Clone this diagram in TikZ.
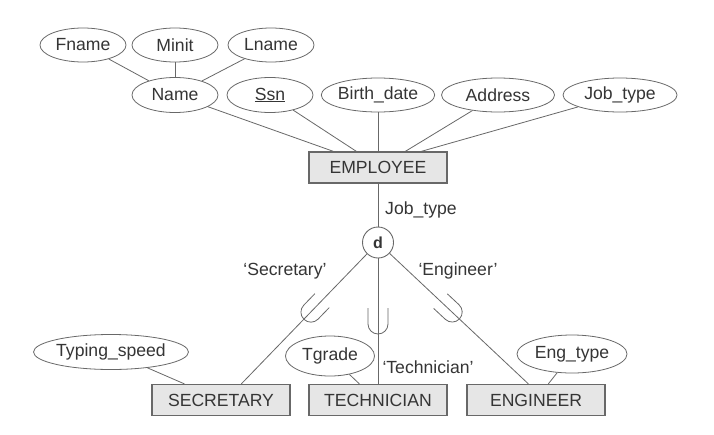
\documentclass[tikz,border=0pt]{standalone}
\usepackage{fontspec}
\setmainfont{Liberation Sans}
\usetikzlibrary{shapes.geometric,calc}
\definecolor{ink}{HTML}{353535}
\definecolor{edge}{HTML}{686868}
\definecolor{boxfill}{HTML}{E6E6E6}
\begin{document}
\begin{tikzpicture}[x=1pt,y=-1pt,
  attr/.style={ellipse,draw=edge,line width=0.8pt,fill=white,inner sep=0pt,text=ink,font=\fontsize{17.6}{20}\selectfont},
  ent/.style={rectangle,draw=edge,line width=1.3pt,fill=boxfill,minimum width=138pt,minimum height=31pt,inner sep=0pt,text=ink,font=\fontsize{17.6}{20}\selectfont},
  disc/.style={circle,draw=edge,line width=0.9pt,fill=white,minimum size=31pt,inner sep=0pt,text=ink,font=\fontsize{16}{18}\selectfont\bfseries},
  conn/.style={draw=edge,line width=0.8pt},
  lbl/.style={text=ink,font=\fontsize{17.6}{20}\selectfont,inner sep=0pt},
  subsetU/.pic={\draw[conn] (-10,-13) -- (-10,3) arc[start angle=180,end angle=0,radius=10] -- (10,-13);}
]
\useasboundingbox (0,0) rectangle (714,434);
\fill[white] (0,0) rectangle (714,434);

% attributes of EMPLOYEE
\node[attr,minimum width=86pt,minimum height=34pt] (fname) at (83,45) {Fname};
\node[attr,minimum width=86pt,minimum height=34pt] (minit) at (175,45) {Minit};
\node[attr,minimum width=86pt,minimum height=34pt] (lname) at (271,45) {Lname};
\node[attr,minimum width=86pt,minimum height=35pt] (name) at (175,95) {Name};
\node[attr,minimum width=86pt,minimum height=35pt] (ssn) at (270,95) {\underline{Ssn}};
\node[attr,minimum width=113pt,minimum height=34pt] (bdate) at (378,95) {Birth\_date};
\node[attr,minimum width=113pt,minimum height=34pt] (addr) at (498,95) {Address};
\node[attr,minimum width=114pt,minimum height=34pt] (jtype) at (620,95) {Job\_type};

% entities
\node[ent] (emp) at (378,167.5) {EMPLOYEE};
\node[disc] (d) at (378,242.5) {d};
\node[ent] (sec) at (221,400) {SECRETARY};
\node[ent] (tech) at (378,400) {TECHNICIAN};
\node[ent] (eng) at (536,400) {ENGINEER};

% subclass attributes
\node[attr,minimum width=142pt,minimum height=35pt] (tspeed) at (111,352) {Typing\_speed};
\node[attr,minimum width=89pt,minimum height=40pt] (tgrade) at (330,356) {Tgrade};
\node[attr,minimum width=110pt,minimum height=38pt] (etype) at (572,354) {Eng\_type};

% labels
\node[lbl,anchor=west] (lbljob) at (385,210) {Job\_type};
\node[lbl] (lblsec) at (285,271) {‘Secretary’};
\node[lbl] (lbleng) at (458,271) {‘Engineer’};
\node[lbl] (lbltech) at (428,367) {‘Technician’};

% connectors
\draw[conn] (fname) -- (name);
\draw[conn] (minit) -- (name);
\draw[conn] (lname) -- (name);
\draw[conn] (name) -- ($(emp.north west)+(25,0)$);
\draw[conn] (ssn) -- ($(emp.north west)+(48,0)$);
\draw[conn] (bdate) -- (emp);
\draw[conn] (addr) -- ($(emp.north west)+(97,0)$);
\draw[conn] (jtype) -- ($(emp.north west)+(113,0)$);
\draw[conn] (emp) -- (d);
\draw[conn] (d) -- ($(sec.north west)+(90,0)$);
\draw[conn] (d) -- (tech);
\draw[conn] (d) -- ($(eng.north west)+(62,0)$);
\draw[conn] (tspeed) -- ($(sec.north west)+(33,0)$);
\draw[conn] (tgrade) -- ($(tech.north west)+(51,0)$);
\draw[conn] (etype) -- ($(eng.north west)+(82,0)$);

% subset symbols
\pic[rotate=-44] at (313,310) {subsetU};
\pic at (378,321) {subsetU};
\pic[rotate=47] at (450,310) {subsetU};
\end{tikzpicture}
\end{document}
